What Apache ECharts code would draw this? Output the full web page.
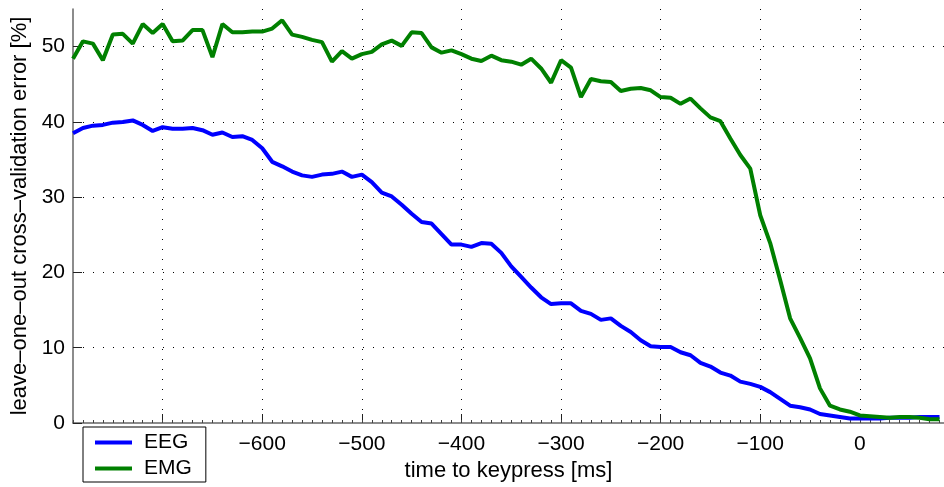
<!DOCTYPE html>
<html>
<head>
<meta charset="utf-8">
<script src="https://cdn.jsdelivr.net/npm/echarts@6/dist/echarts.min.js"></script>
<style>
  html, body { margin: 0; padding: 0; background: #fff; }
  #main { width: 944px; height: 487px; }
</style>
</head>
<body>
<div id="main"></div>
<script>
// time axis (ms before keypress), one sample every 10 ms
var timeMs = [
  -790, -780, -770, -760, -750, -740, -730, -720, -710, -700,
  -690, -680, -670, -660, -650, -640, -630, -620, -610, -600,
  -590, -580, -570, -560, -550, -540, -530, -520, -510, -500,
  -490, -480, -470, -460, -450, -440, -430, -420, -410, -400,
  -390, -380, -370, -360, -350, -340, -330, -320, -310, -300,
  -290, -280, -270, -260, -250, -240, -230, -220, -210, -200,
  -190, -180, -170, -160, -150, -140, -130, -120, -110, -100,
  -90, -80, -70, -60, -50, -40, -30, -20, -10, 0,
  10, 20, 30, 40, 50, 60, 70, 80
];

var eeg = [
  38.5, 39.2, 39.5, 39.6, 39.9, 40.0, 40.2, 39.6, 38.8, 39.3,
  39.1, 39.1, 39.2, 38.9, 38.3, 38.6, 38.0, 38.1, 37.6, 36.5,
  34.7, 34.1, 33.4, 32.9, 32.7, 33.0, 33.1, 33.4, 32.7, 33.0,
  32.0, 30.6, 30.1, 29.0, 27.8, 26.7, 26.5, 25.1, 23.7, 23.7,
  23.4, 23.9, 23.8, 22.6, 20.8, 19.4, 18.0, 16.7, 15.8, 15.9,
  15.9, 14.9, 14.5, 13.7, 13.9, 12.9, 12.1, 11.0, 10.2, 10.1,
  10.1, 9.4, 9.0, 8.0, 7.5, 6.7, 6.3, 5.5, 5.2, 4.8,
  4.1, 3.2, 2.3, 2.1, 1.8, 1.2, 1.0, 0.8, 0.6, 0.6,
  0.6, 0.6, 0.7, 0.7, 0.7, 0.8, 0.8, 0.8
];

var emg = [
  48.4, 50.7, 50.4, 48.2, 51.6, 51.7, 50.4, 53.0, 51.8, 53.0,
  50.7, 50.8, 52.2, 52.2, 48.6, 53.0, 51.9, 51.9, 52.0, 52.0,
  52.4, 53.5, 51.6, 51.3, 50.9, 50.6, 48.0, 49.4, 48.4, 49.0,
  49.3, 50.3, 50.8, 50.1, 51.9, 51.8, 49.9, 49.2, 49.5, 49.0,
  48.4, 48.1, 48.8, 48.2, 48.0, 47.6, 48.4, 47.1, 45.2, 48.2,
  47.2, 43.3, 45.7, 45.4, 45.3, 44.1, 44.4, 44.5, 44.2, 43.3,
  43.2, 42.4, 43.1, 41.8, 40.6, 40.1, 37.8, 35.6, 33.8, 27.6,
  23.9, 19.0, 13.9, 11.3, 8.6, 4.6, 2.3, 1.8, 1.5, 1.0,
  0.9, 0.8, 0.7, 0.8, 0.8, 0.7, 0.5, 0.5
];

var seriesNames = ['EEG', 'EMG'];
var seriesColors = ['#0000ff', '#008000'];

var FONT = 'Liberation Sans, Arial, Helvetica, sans-serif';
var X_MIN = -790, X_MAX = 84.5;

function pairs(ys) {
  return timeMs.map(function (t, i) { return [t, ys[i]]; });
}

var myChart = echarts.init(document.getElementById('main'), null, { renderer: 'canvas' });

var option = {
  animation: false,
  backgroundColor: '#fff',
  textStyle: { fontFamily: FONT },
  grid: { left: 73, right: 0, top: 9, bottom: 64, containLabel: false },
  legend: {
    orient: 'vertical',
    left: 83,
    top: 427,
    data: [
      { name: 'EEG', icon: 'rect' },
      { name: 'EMG', icon: 'rect' }
    ],
    itemWidth: 37,
    itemHeight: 4,
    itemGap: 5,
    padding: [5, 14, 3, 12],
    borderColor: '#000',
    borderWidth: 1,
    backgroundColor: '#fff',
    textStyle: { fontFamily: FONT, fontSize: 21, color: '#000', padding: [0, 0, 0, 7] }
  },
  xAxis: [
    {
      type: 'value',
      min: X_MIN,
      max: X_MAX,
      splitNumber: 9,
      name: 'time to keypress [ms]',
      nameLocation: 'middle',
      nameGap: 36,
      nameTextStyle: { fontFamily: FONT, fontSize: 22, color: '#000' },
      axisLine: { show: true, onZero: false, lineStyle: { color: '#666', width: 1.5 } },
      axisTick: { show: true, inside: true, length: 9, lineStyle: { color: '#222', width: 1 } },
      axisLabel: {
        showMinLabel: false,
        showMaxLabel: false,
        margin: 11,
        fontFamily: FONT,
        fontSize: 21,
        color: '#000',
        formatter: function (v) { return String(v).replace('-', '\u2212'); }
      },
      splitLine: {
        show: true,
        showMinLine: false,
        showMaxLine: false,
        lineStyle: { color: '#000', width: 1, type: [1, 9] }
      }
    },
    {
      // minor ticks every 10 ms
      type: 'value',
      min: X_MIN,
      max: X_MAX,
      interval: 10,
      position: 'bottom',
      axisLine: { show: false, onZero: false },
      axisTick: { show: true, inside: true, length: 3, lineStyle: { color: '#444', width: 1 } },
      axisLabel: { show: false },
      splitLine: { show: false }
    }
  ],
  yAxis: {
    type: 'value',
    min: 0,
    max: 55,
    interval: 10,
    name: 'leave\u2013one\u2013out cross\u2013validation error [%]',
    nameLocation: 'middle',
    nameGap: 41,
    nameTextStyle: { fontFamily: FONT, fontSize: 22, color: '#000' },
    axisLine: { show: true, onZero: false, lineStyle: { color: '#666', width: 1.5 } },
    axisTick: { show: true, inside: true, length: 9, lineStyle: { color: '#222', width: 1 } },
    axisLabel: {
      showMaxLabel: false,
      margin: 8,
      fontFamily: FONT,
      fontSize: 21,
      color: '#000'
    },
    splitLine: {
      show: true,
      showMinLine: false,
      showMaxLine: false,
      lineStyle: { color: '#000', width: 1, type: [1, 9] }
    }
  },
  series: [
    {
      name: seriesNames[0],
      type: 'line',
      data: pairs(eeg),
      showSymbol: false,
      symbol: 'none',
      color: seriesColors[0],
      lineStyle: { color: seriesColors[0], width: 4 },
      z: 3
    },
    {
      name: seriesNames[1],
      type: 'line',
      data: pairs(emg),
      showSymbol: false,
      symbol: 'none',
      color: seriesColors[1],
      lineStyle: { color: seriesColors[1], width: 4 },
      z: 4
    }
  ]
};

myChart.setOption(option);
</script>
</body>
</html>
